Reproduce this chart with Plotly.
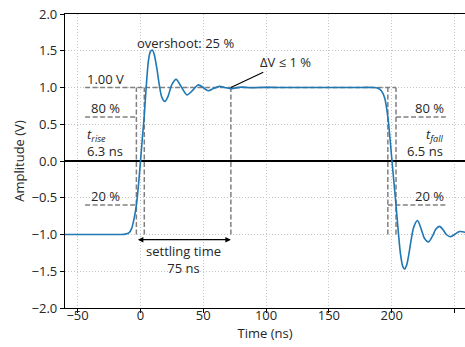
import plotly.graph_objects as go

# ---- data ----
time_ns = [-60, -30, -15, -12, -9, -7, -5, -3.2, -1.5, 0, 1.5, 3.0, 4.5, 6.5, 8, 9.5, 11, 13, 15, 17,
           19.5, 22, 25, 28.4, 32.5, 37, 41.5, 46, 50, 54, 58.5, 63, 67, 71.5, 76, 80, 85, 89, 94, 98,
           110, 130, 150, 170, 185, 189, 192, 194.5, 196.9, 198.5, 200.2, 201.8, 203.4, 205, 207,
           208.7, 210.2, 211.8, 213.5, 215.5, 217.5, 220.5, 223.5, 226, 229.3, 232.5, 235, 238, 241,
           243.5, 246.5, 250, 254, 258.5]
amplitude_v = [-1.0, -1.0, -1.0, -0.995, -0.975, -0.92, -0.78, -0.6, -0.32, -0.02, 0.3, 0.6, 0.98,
               1.38, 1.49, 1.51, 1.45, 1.27, 1.04, 0.87, 0.81, 0.88, 1.04, 1.11, 1.01, 0.90, 0.96,
               1.035, 1.0, 0.955, 0.99, 1.015, 1.0, 0.985, 0.995, 1.005, 1.0, 0.996, 1.0, 1.002,
               1.0, 1.0, 1.0, 1.0, 1.0, 0.99, 0.95, 0.85, 0.6, 0.33, 0.0, -0.3, -0.6, -0.92, -1.27,
               -1.43, -1.47, -1.42, -1.28, -1.07, -0.9, -0.81, -0.93, -1.05, -1.10, -1.02, -0.93,
               -0.89, -0.94, -1.0, -1.03, -1.0, -0.96, -0.97]

x_ticks = [-50, 0, 50, 100, 150, 200, 250]
y_ticks = [-2.0, -1.5, -1.0, -0.5, 0.0, 0.5, 1.0, 1.5, 2.0]

LOW, HIGH = -1.0, 1.0
LEVEL_20, LEVEL_80 = -0.6, 0.6
T20_RISE, T80_RISE = -3.2, 3.1
T80_FALL, T20_FALL = 196.9, 203.4
T_SETTLE = 72.0
LABEL_LEFT, LABEL_CENTER, LABEL_RIGHT = -44.0, -28.0, 243.0
RISE_TIME, FALL_TIME, SETTLE_TIME, OVERSHOOT = 6.3, 6.5, 75, 25

def fmt(v, d):
    s = f"{v:.{d}f}"
    return s.replace("-", "\u2212")

FONT = "'Open Sans', Lato, sans-serif"
TXT = "#262626"
FS = 13

# ---- guide lines (dashed grey) ----
gx, gy = [], []
def seg(x0, y0, x1, y1):
    gx.extend([x0, x1, None]); gy.extend([y0, y1, None])

seg(LABEL_LEFT, HIGH, T20_FALL, HIGH)
seg(LABEL_LEFT, LEVEL_80, T20_RISE, LEVEL_80)
seg(LABEL_LEFT, LEVEL_20, T20_RISE, LEVEL_20)
seg(T20_RISE, LOW, T20_RISE, HIGH)
seg(T80_RISE, LOW, T80_RISE, HIGH)
seg(T_SETTLE, LOW, T_SETTLE, HIGH)
seg(T80_FALL, LOW, T80_FALL, HIGH)
seg(T20_FALL, LOW, T20_FALL, HIGH)
seg(T20_FALL, LEVEL_80, LABEL_RIGHT, LEVEL_80)
seg(T80_FALL, LEVEL_20, LABEL_RIGHT, LEVEL_20)

fig = go.Figure()
fig.add_trace(go.Scatter(x=gx, y=gy, mode="lines", hoverinfo="skip",
                         line=dict(color="#808080", width=1.5, dash="5px,2.5px")))
fig.add_trace(go.Scatter(x=time_ns, y=amplitude_v, mode="lines",
                         line=dict(color="#1f77b4", width=1.6, shape="spline", smoothing=0.8)))

ann = []
def txt(x, y, s, xa="center", ya="middle"):
    ann.append(dict(x=x, y=y, text=s, showarrow=False, xanchor=xa, yanchor=ya, align=xa,
                    font=dict(family=FONT, size=FS, color=TXT)))

txt(LABEL_CENTER, HIGH + 0.12, "1.00 V")
txt(LABEL_CENTER, LEVEL_80 + 0.12, "80 %")
txt(LABEL_CENTER, LEVEL_20 + 0.12, "20 %")
txt(LABEL_LEFT, 0.245, f"<i>t</i><sub><i>rise</i></sub><br>{RISE_TIME} ns", xa="left")
txt(LABEL_RIGHT, LEVEL_80 + 0.12, "80 %", xa="right")
txt(LABEL_RIGHT, LEVEL_20 + 0.12, "20 %", xa="right")
txt(LABEL_RIGHT, 0.245, f"<i>t</i><sub><i>fall</i></sub><br>{FALL_TIME} ns", xa="right")
txt(36, 1.61, f"overshoot: {OVERSHOOT} %")
txt(34, -1.335, f"settling time<br>{SETTLE_TIME} ns")

# ΔV annotation with plain line
ann.append(dict(x=T_SETTLE, y=HIGH, ax=115.5, ay=1.35, axref="x", ayref="y",
                text="\u0394V \u2264 1 %", showarrow=True, arrowhead=0, arrowwidth=1.1,
                arrowcolor="black", font=dict(family=FONT, size=FS, color=TXT)))
# settling time double arrow
ann.append(dict(x=T_SETTLE, y=-1.07, ax=T20_RISE, ay=-1.07, axref="x", ayref="y",
                text="", showarrow=True, arrowhead=2, startarrowhead=2, arrowside="end+start",
                arrowsize=1.0, startarrowsize=1.0, arrowwidth=1.1, arrowcolor="black"))

GRID = dict(showgrid=True, gridcolor="#c4c4c4", griddash="1px,2px", gridwidth=1)

fig.update_layout(
    width=465, height=347, margin=dict(l=65, r=0, t=14, b=39, autoexpand=False),
    plot_bgcolor="white", paper_bgcolor="white", showlegend=False,
    font=dict(family=FONT, size=FS, color=TXT),
    annotations=ann,
    xaxis=dict(range=[-60, 258.3], tickvals=x_ticks, ticktext=[fmt(v, 0) for v in x_ticks],
               ticks="outside", ticklen=4, tickwidth=1, tickcolor="black",
               showline=True, linecolor="black", linewidth=1.2, mirror=True,
               zeroline=False, automargin=False, ticklabelstandoff=-9,
               tickfont=dict(size=FS),
               title=dict(text="Time (ns)", standoff=0, font=dict(size=FS)), **GRID),
    yaxis=dict(range=[-2, 2], tickvals=y_ticks, ticktext=[fmt(v, 1) for v in y_ticks],
               ticks="outside", ticklen=4, tickwidth=1, tickcolor="black",
               showline=True, linecolor="black", linewidth=1.2,
               zeroline=True, zerolinecolor="black", zerolinewidth=1.5, automargin=False,
               tickfont=dict(size=FS),
               title=dict(text="Amplitude (V)", standoff=4, font=dict(size=FS)), **GRID),
)

fig.write_html("out.html", config={"displayModeBar": False},
               post_script="document.body.style.margin='0';")
